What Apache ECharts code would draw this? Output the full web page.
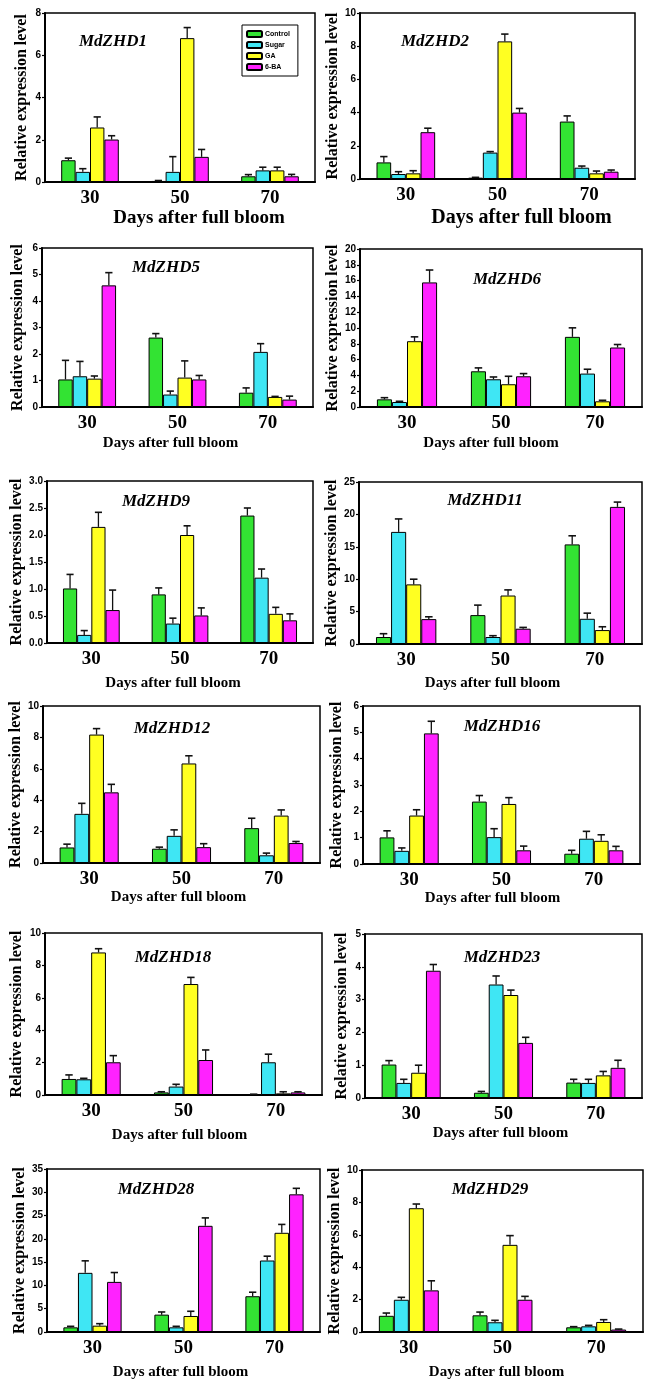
<!DOCTYPE html>
<html><head><meta charset="utf-8">
<script src="https://cdn.jsdelivr.net/npm/echarts@6/dist/echarts.min.js"></script>
<style>html,body{margin:0;padding:0;background:#fff}#c{width:651px;height:1388px}</style>
</head><body><div id="c"></div>
<script>
// ---------- data ----------
const days = ['30', '50', '70'];
const treatments = ['Control', 'Sugar', 'GA', '6-BA'];
const genes = ['MdZHD1','MdZHD2','MdZHD5','MdZHD6','MdZHD9','MdZHD11','MdZHD12','MdZHD16','MdZHD18','MdZHD23','MdZHD28','MdZHD29'];
const yMax  = [8, 10, 6, 20, 3, 25, 10, 6, 10, 5, 35, 10];
const yStep = [2, 2, 1, 2, 0.5, 5, 2, 1, 2, 1, 5, 2];

// rows: Control, Sugar, GA, 6-BA ; columns: 30, 50, 70 days
const MdZHD1_mean  = [[1.03,0.05,0.27],[0.48,0.48,0.55],[2.58,6.81,0.55],[2.01,1.19,0.27]];
const MdZHD1_err   = [[0.10,0.02,0.08],[0.15,0.72,0.15],[0.50,0.50,0.15],[0.18,0.35,0.09]];
const MdZHD2_mean  = [[1.00,0.08,3.46],[0.30,1.59,0.68],[0.34,8.29,0.34],[2.82,4.00,0.44]];
const MdZHD2_err   = [[0.35,0.02,0.34],[0.14,0.06,0.10],[0.16,0.44,0.14],[0.24,0.25,0.10]];
const MdZHD5_mean  = [[1.04,2.62,0.54],[1.16,0.47,2.08],[1.07,1.11,0.38],[4.59,1.04,0.28]];
const MdZHD5_err   = [[0.72,0.15,0.18],[0.56,0.13,0.31],[0.10,0.63,0.02],[0.48,0.15,0.13]];
const MdZHD6_mean  = [[0.97,4.52,8.88],[0.63,3.51,4.23],[8.33,2.88,0.72],[15.77,3.89,7.53]];
const MdZHD6_err   = [[0.21,0.43,1.14],[0.09,0.29,0.55],[0.55,1.01,0.13],[1.57,0.34,0.38]];
const MdZHD9_mean  = [[1.01,0.90,2.36],[0.15,0.36,1.21],[2.15,2.00,0.54],[0.61,0.51,0.42]];
const MdZHD9_err   = [[0.26,0.12,0.14],[0.08,0.10,0.16],[0.27,0.17,0.12],[0.37,0.14,0.12]];
const MdZHD11_mean = [[1.08,4.46,15.37],[17.30,1.08,3.89],[9.20,7.48,2.15],[3.84,2.36,21.16]];
const MdZHD11_err  = [[0.51,1.54,1.33],[2.00,0.20,0.87],[0.80,0.87,0.51],[0.36,0.20,0.74]];
const MdZHD12_mean = [[0.99,0.91,2.22],[3.13,1.73,0.49],[8.18,6.34,3.02],[4.50,1.01,1.27]];
const MdZHD12_err  = [[0.21,0.10,0.63],[0.67,0.38,0.14],[0.38,0.49,0.36],[0.51,0.22,0.10]];
const MdZHD16_mean = [[1.01,2.37,0.39],[0.50,1.02,0.96],[1.84,2.28,0.88],[4.96,0.52,0.52]];
const MdZHD16_err  = [[0.25,0.23,0.13],[0.11,0.32,0.28],[0.22,0.24,0.23],[0.46,0.16,0.15]];
const MdZHD18_mean = [[0.99,0.16,0.04],[0.97,0.52,2.02],[8.80,6.85,0.10],[2.02,2.16,0.16]];
const MdZHD18_err  = [[0.25,0.04,0.01],[0.06,0.14,0.50],[0.23,0.41,0.10],[0.41,0.62,0.04]];
const MdZHD23_mean = [[1.02,0.16,0.47],[0.46,3.46,0.46],[0.77,3.14,0.69],[3.88,1.68,0.92]];
const MdZHD23_err  = [[0.12,0.04,0.10],[0.11,0.26,0.11],[0.23,0.15,0.12],[0.19,0.17,0.23]];
const MdZHD28_mean = [[1.00,3.73,7.68],[12.70,1.00,15.35],[1.36,3.44,21.30],[10.76,22.80,29.56]];
const MdZHD28_err  = [[0.22,0.57,0.86],[2.58,0.22,0.93],[0.43,1.01,1.80],[2.01,1.70,1.29]];
const MdZHD29_mean = [[1.00,1.03,0.29],[1.99,0.60,0.35],[7.64,5.38,0.62],[2.57,1.99,0.15]];
const MdZHD29_err  = [[0.17,0.20,0.04],[0.15,0.12,0.06],[0.26,0.57,0.14],[0.59,0.21,0.03]];

const means = [MdZHD1_mean,MdZHD2_mean,MdZHD5_mean,MdZHD6_mean,MdZHD9_mean,MdZHD11_mean,MdZHD12_mean,MdZHD16_mean,MdZHD18_mean,MdZHD23_mean,MdZHD28_mean,MdZHD29_mean];
const errs  = [MdZHD1_err,MdZHD2_err,MdZHD5_err,MdZHD6_err,MdZHD9_err,MdZHD11_err,MdZHD12_err,MdZHD16_err,MdZHD18_err,MdZHD23_err,MdZHD28_err,MdZHD29_err];

// ---------- layout / style ----------
const colors = ['#33e333', '#3fe6f4', '#ffff22', '#ff22ff'];
// [left, top, right, bottom] of each plot box (page px)
const boxes = [
  [45,13,315,182],[360,13,635,179],
  [42,248,313,407],[360,249,642,407],
  [47,481,313,643],[359,482,642,644],
  [43,706,320,863],[363,706,640,864],
  [45,933,322,1095],[365,934,642,1098],
  [47,1169,320,1332],[362,1170,643,1332]
];
const titlePos = [[113,42],[435,42],[166,268],[507,280],[156,502],[485,501],[172,729],[502,727],[173,958],[502,958],[156,1190],[490,1190]];
const yNameX = [22,335,18,333,18,333,22,337,17,342,22,338];
const xNameY = [218,218,443,443,683,683,897,898,1135,1133,1372,1372];
const xNameShift = [19,24,-7,-10,-7,-8,-3,-9,-4,-3,-3,-6];
const xNameSize = [19,20,15,15,15,15,15,15,15,15,15,15];
const GAP = 0.36;
const serif = '"Liberation Serif","DejaVu Serif",serif';
const W = 651, H = 1388;

const grid = [], xAxis = [], yAxis = [], series = [], graphic = [];
genes.forEach((g, i) => {
  const [l, t, r, b] = boxes[i];
  grid.push({left: l, top: t, width: r - l, height: b - t, show: true, borderColor: '#000', borderWidth: 1.5, backgroundColor: 'transparent'});
  const xs = xNameShift[i];
  const fs = xNameSize[i];
  xAxis.push({
    type: 'category', gridIndex: i, data: days,
    axisLine: {lineStyle: {color: '#000', width: 2}},
    axisTick: {alignWithLabel: true, length: 4, lineStyle: {color: '#000', width: 1.5}},
    axisLabel: {color: '#000', fontFamily: serif, fontWeight: 'bold', fontSize: 19, margin: 7},
    name: 'Days after full bloom', nameLocation: 'middle',
    nameGap: xNameY[i] - b - fs / 2,
    nameTextStyle: {color: '#000', fontFamily: serif, fontWeight: 'bold', fontSize: fs,
      padding: xs > 0 ? [0, 0, 0, 2 * xs] : [0, -2 * xs, 0, 0]}
  });
  yAxis.push({
    type: 'value', gridIndex: i, min: 0, max: yMax[i], interval: yStep[i],
    splitLine: {show: false},
    axisLine: {show: true, lineStyle: {color: '#000', width: 2}},
    axisTick: {show: true, length: 3, lineStyle: {color: '#000', width: 1.2}},
    axisLabel: {color: '#000', fontFamily: '"Liberation Sans Narrow","Liberation Sans",sans-serif', fontWeight: 'bold', fontSize: 10, margin: 4,
      formatter: v => yStep[i] < 1 ? v.toFixed(1) : String(v)},
    name: 'Relative expression level', nameLocation: 'middle', nameRotate: 90,
    nameGap: l - yNameX[i] - 8,
    nameTextStyle: {color: '#000', fontFamily: serif, fontWeight: 'bold', fontSize: 16}
  });
  const errData = [];
  treatments.forEach((tr, k) => {
    series.push({
      type: 'bar', name: tr, xAxisIndex: i, yAxisIndex: i,
      data: means[i][k], barGap: '0%', barCategoryGap: (GAP * 100) + '%',
      itemStyle: {color: colors[k], borderColor: '#000', borderWidth: 1},
      emphasis: {disabled: true}, z: 2
    });
    days.forEach((d, j) => errData.push([j, k, means[i][k][j], errs[i][k][j]]));
  });
  series.push({
    type: 'custom', xAxisIndex: i, yAxisIndex: i, z: 3, silent: true,
    encode: {x: 0, y: 2},
    data: errData,
    renderItem: function (params, api) {
      const cat = api.value(0), k = api.value(1), v = api.value(2), e = api.value(3);
      const band = api.size([1, 0])[0];
      const bw = band * (1 - GAP) / 4;
      const p0 = api.coord([cat, v]);
      const p1 = api.coord([cat, v + e]);
      const x = p0[0] + (k - 1.5) * bw;
      const cw = bw * 0.5;
      return {type: 'group', children: [
        {type: 'line', shape: {x1: x, y1: p0[1], x2: x, y2: p1[1]}, style: {stroke: '#111', lineWidth: 1.3}},
        {type: 'line', shape: {x1: x - cw / 2, y1: p1[1], x2: x + cw / 2, y2: p1[1]}, style: {stroke: '#111', lineWidth: 1.6}}
      ]};
    }
  });
  graphic.push({
    type: 'text', x: titlePos[i][0], y: titlePos[i][1], z: 10,
    style: {text: g, fill: '#000', font: 'italic bold 17px ' + serif, align: 'center', verticalAlign: 'middle'}
  });
});

const chart = echarts.init(document.getElementById('c'), null, {renderer: 'canvas', width: W, height: H});
chart.setOption({
  backgroundColor: '#fff',
  animation: false,
  legend: {
    data: treatments, orient: 'vertical', left: 242, top: 25,
    padding: [5, 8, 5, 4], itemGap: 3, itemWidth: 15, itemHeight: 6,
    borderColor: '#000', borderWidth: 1, backgroundColor: '#fff',
    textStyle: {fontSize: 7, color: '#000', fontFamily: '"Liberation Sans",sans-serif', fontWeight: 'bold', padding: [0, 0, 0, -2]}
  },
  grid, xAxis, yAxis, series, graphic
});
</script>
</body></html>
